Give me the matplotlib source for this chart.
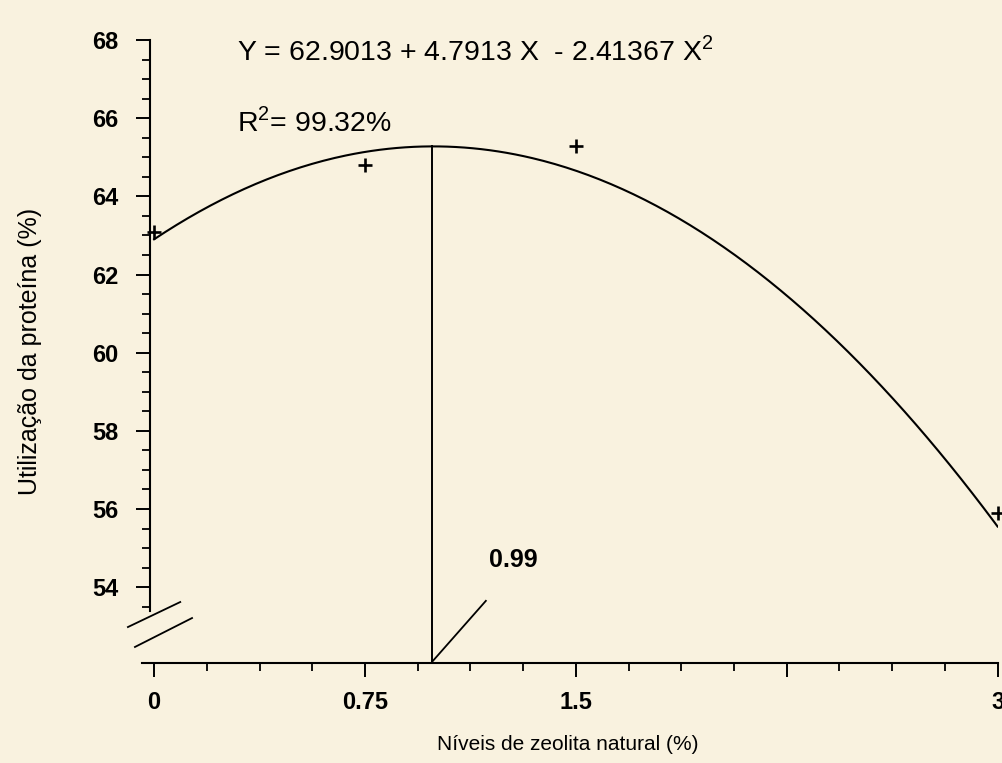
import matplotlib.pyplot as plt
import numpy as np
from matplotlib.ticker import MultipleLocator, FixedLocator

plt.rcParams['font.family'] = ['Liberation Sans', 'DejaVu Sans']
plt.rcParams['mathtext.fontset'] = 'custom'
plt.rcParams['mathtext.rm'] = 'Liberation Sans'

zeolite_levels = [0.0, 0.75, 1.5, 3.0]
protein_use = [63.08, 64.8, 65.3, 55.9]

# fitted quadratic shown on the chart
coef = [62.9013, 4.7913, -2.41367]
x_max = 0.99

x_ticks = [0, 0.75, 1.5, 2.25, 3]
x_ticklabels = ['0', '0.75', '1.5', '', '3']
y_ticks = [54, 56, 58, 60, 62, 64, 66, 68]

bg = '#f9f2df'
fig = plt.figure(figsize=(10.03, 7.63), dpi=100, facecolor=bg)
ax = fig.add_axes([0.1396, 0.128, 0.855, 0.8195], facecolor=bg)

xs = np.linspace(0, 3, 300)
ys = coef[0] + coef[1] * xs + coef[2] * xs ** 2
ax.plot(xs, ys, color='black', lw=1.5)
ax.plot(zeolite_levels, protein_use, ls='none', marker='+', ms=10, mew=1.9,
        color='black', clip_on=False)

# vertical line at the maximum and leader to its label
y_top = coef[0] + coef[1] * x_max + coef[2] * x_max ** 2
ax.plot([x_max, x_max], [52.06, y_top], color='black', lw=1.4)
ax.plot([x_max, x_max + 0.19], [52.1, 53.65], color='black', lw=1.3)
ax.text(x_max + 0.2, 54.7, '0.99', fontsize=18, fontweight='bold', va='center')

ax.set_xlim(-0.05, 3.0)
ax.set_ylim(52.0, 68.0)

for s in ['top', 'right']:
    ax.spines[s].set_visible(False)
ax.spines['left'].set_bounds(53.4, 68)
ax.spines['left'].set_position(('data', -0.014))
ax.spines['bottom'].set_bounds(-0.043, 3)
ax.spines['bottom'].set_position(('data', 52.06))
for s in ['left', 'bottom']:
    ax.spines[s].set_linewidth(1.5)

# axis break marks
ax.plot([-0.093, 0.093], [52.98, 53.62], color='black', lw=1.3, clip_on=False)
ax.plot([-0.068, 0.135], [52.47, 53.21], color='black', lw=1.3, clip_on=False)

ax.yaxis.set_major_locator(FixedLocator(y_ticks))
ax.yaxis.set_minor_locator(FixedLocator(np.arange(53.5, 68.01, 0.5)))
ax.xaxis.set_major_locator(FixedLocator(x_ticks))
ax.set_xticklabels(x_ticklabels)
ax.xaxis.set_minor_locator(MultipleLocator(0.1875))

ax.tick_params(axis='both', which='major', direction='out', length=10, width=1.4,
               labelsize=17)
ax.tick_params(axis='both', which='minor', direction='out', length=6, width=1.3)
ax.tick_params(axis='y', which='major', pad=13)
ax.tick_params(axis='x', which='major', pad=10)
for lab in ax.get_xticklabels() + ax.get_yticklabels():
    lab.set_fontweight('bold')

ax.text(0.295, 67.7, r'Y = 62.9013 + 4.7913 X  - 2.41367 X$^{\mathregular{2}}$',
        fontsize=20.5, va='center')
ax.text(0.295, 65.9, r'R$^{\mathregular{2}}$= 99.32%', fontsize=20.5, va='center')

fig.text(0.03, 0.539, 'Utilização da proteína (%)', rotation=90, fontsize=18,
         ha='center', va='center')
fig.text(0.566, 0.024, 'Níveis de zeolita natural (%)', fontsize=15,
         ha='center', va='center')

fig.savefig('out.png', dpi=100, facecolor=bg)
